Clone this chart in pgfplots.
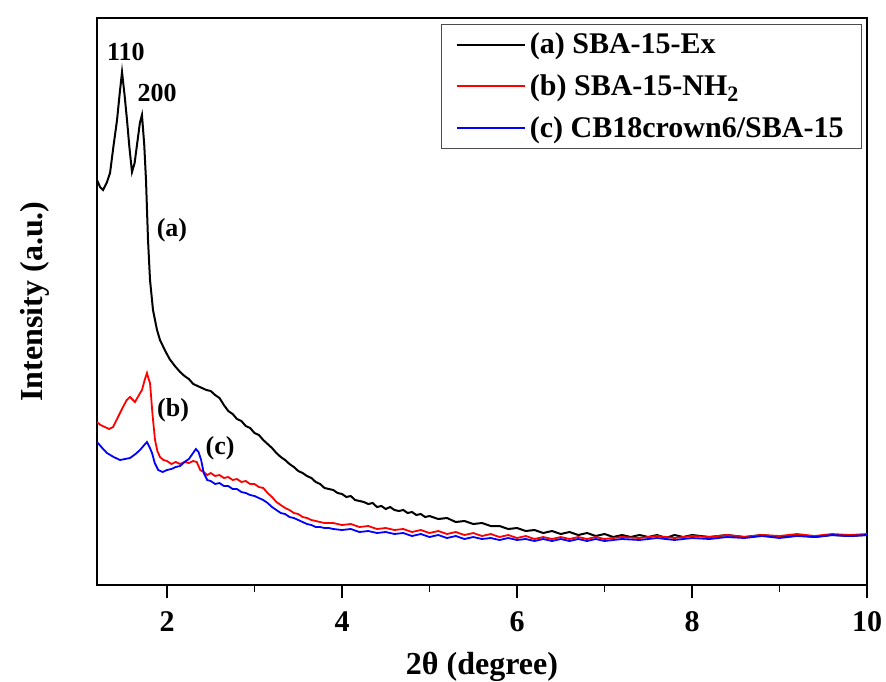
\documentclass[border=0pt]{standalone}
\usepackage{pgfplots}
\pgfplotsset{compat=1.18}
\usepackage{fontspec}
\setmainfont{Liberation Serif}
\begin{document}
\begin{tikzpicture}
\begin{axis}[
  scale only axis, width=385pt, height=283.5pt,
  xmin=1.2, xmax=10, ymin=0, ymax=567,
  axis line style={line width=1pt},
  ytick=\empty,
  xtick={2,4,6,8,10}, minor xtick={3,5,7,9},
  tick pos=left, tick align=outside,
  major tick length=6.5pt, minor tick length=3.5pt,
  tick style={draw=none},
  /pgf/number format/assume math mode=true,
  xticklabel style={font=\fontsize{15}{15}\selectfont\bfseries, anchor=center, yshift=-12pt},
  xlabel={2θ (degree)},
  xlabel style={font=\fontsize{16}{16}\selectfont\bfseries, at={(axis description cs:0.5,0)}, anchor=center, yshift=-41pt},
  ylabel={Intensity (a.u.)},
  ylabel style={font=\fontsize{16}{16}\selectfont\bfseries, at={(axis description cs:-0.0805,0.5)}, anchor=center},
  legend style={at={(0.9935,0.989)}, anchor=north east, draw=black!70, line width=0.5pt,
    font=\fontsize{15}{17}\selectfont\bfseries, inner xsep=7pt, inner ysep=2pt, row sep=5pt},
  legend cell align=left,
  legend image code/.code={\draw[#1, line width=1pt] (0pt,0pt) -- (34pt,0pt);},
]
\coordinate (bl) at (rel axis cs:0,0);
\coordinate (tr) at (rel axis cs:1,1);
\addplot[black, line width=1pt] coordinates {
(1.200,405) (1.235,398) (1.269,395) (1.310,402) (1.349,412) (1.390,440) (1.429,465) (1.460,492) (1.486,513)
(1.515,490) (1.543,465) (1.570,438) (1.600,413) (1.630,422) (1.657,440) (1.690,462) (1.714,470)
(1.740,440) (1.760,405) (1.783,345) (1.806,305) (1.840,275) (1.886,255)
(1.92,245) (1.98,234) (2.03,226) (2.09,219) (2.15,213) (2.20,209) (2.25,206) (2.30,201) (2.35,199)
(2.40,197) (2.45,195) (2.50,194) (2.55,190) (2.60,187) (2.65,180) (2.70,174) (2.75,171) (2.80,166)
(2.85,164) (2.90,159) (2.95,157) (3.00,152) (3.05,150) (3.10,145) (3.15,141) (3.20,137) (3.25,132)
(3.30,128) (3.35,125) (3.40,121) (3.45,118) (3.50,114) (3.55,112) (3.60,109) (3.65,107) (3.70,103)
(3.75,101) (3.80,97) (3.85,96)
(3.90,95) (3.95,92) (4.00,91) (4.05,88) (4.10,89) (4.15,85) (4.20,84) (4.25,83) (4.30,81) (4.35,82)
(4.40,78) (4.45,79) (4.50,76) (4.55,78) (4.60,75) (4.65,74) (4.70,75) (4.75,72) (4.80,73) (4.85,70)
(4.90,71) (4.95,68) (5.00,69) (5.10,66) (5.20,67) (5.30,63) (5.40,64) (5.50,61) (5.60,62) (5.70,59)
(5.80,59) (5.90,56) (6.00,57) (6.10,54) (6.20,55) (6.30,52) (6.40,54) (6.50,51) (6.60,53) (6.70,50)
(6.80,52) (6.90,49) (7.00,51) (7.10,48) (7.20,50) (7.30,48) (7.40,50) (7.50,48) (7.60,50) (7.70,47)
(7.80,50) (7.90,48) (8.00,50) (8.20,48) (8.40,50) (8.60,48) (8.80,50) (9.00,48) (9.20,50) (9.40,48)
(9.60,50) (9.80,49) (10.0,50)
};
\addlegendentry{(a) SBA-15-Ex}
\addplot[red, line width=0.9pt] coordinates {
(1.200,163) (1.240,160) (1.290,158) (1.340,156) (1.383,158) (1.440,168) (1.497,178) (1.540,185) (1.577,188)
(1.600,186) (1.634,183) (1.680,190) (1.714,195) (1.745,205) (1.771,212) (1.790,206) (1.806,202)
(1.835,170) (1.863,145) (1.890,134)
(1.92,128) (1.96,125) (2.00,124) (2.05,121) (2.10,123) (2.15,121) (2.20,123) (2.25,122) (2.30,124)
(2.34,123) (2.38,115) (2.42,113) (2.46,110) (2.50,112) (2.55,109) (2.60,110) (2.65,107) (2.70,108)
(2.75,105) (2.80,106) (2.85,103) (2.90,104) (2.95,101) (3.00,101) (3.05,98) (3.10,97) (3.15,92)
(3.20,88) (3.25,83) (3.30,80) (3.35,77) (3.40,75) (3.45,72) (3.50,71) (3.55,68) (3.60,67) (3.65,65)
(3.70,64) (3.75,63) (3.80,62) (3.85,62)
(3.90,62) (4.00,60) (4.10,61) (4.20,58) (4.30,59) (4.40,56) (4.50,57) (4.60,55) (4.70,56) (4.80,53)
(4.90,55) (5.00,52) (5.10,54) (5.20,51) (5.30,53) (5.40,50) (5.50,52) (5.60,49) (5.70,51) (5.80,48)
(5.90,50) (6.00,47) (6.10,49) (6.20,46) (6.30,48) (6.40,46) (6.50,48) (6.60,46) (6.70,48) (6.80,46)
(6.90,48) (7.00,46) (7.20,48) (7.40,47) (7.60,49) (7.80,47) (8.00,49) (8.20,48) (8.40,50) (8.60,48)
(8.80,50) (9.00,49) (9.20,51) (9.40,49) (9.60,51) (9.80,50) (10.0,51)
};
\addlegendentry{(b) SBA-15-NH\raisebox{-0.45ex}{\fontsize{11}{11}\selectfont 2}}
\addplot[blue, line width=0.9pt] coordinates {
(1.200,143) (1.260,137) (1.314,132) (1.390,128) (1.463,125) (1.520,126) (1.577,127) (1.640,131)
(1.691,135) (1.740,140) (1.771,143) (1.800,138) (1.829,132) (1.860,122)
(1.90,115) (1.95,113) (2.00,115) (2.05,116) (2.10,118) (2.15,119) (2.20,123) (2.25,126) (2.29,131)
(2.33,136) (2.36,133) (2.39,125) (2.42,112) (2.46,105) (2.50,104) (2.55,101) (2.60,102) (2.65,99)
(2.70,99) (2.75,96) (2.80,96) (2.85,93) (2.90,92) (2.95,90) (3.00,89) (3.05,87) (3.10,85) (3.15,82)
(3.20,78) (3.25,75) (3.30,72) (3.35,71) (3.40,68) (3.45,67) (3.50,65) (3.55,63) (3.60,61) (3.65,60)
(3.70,58) (3.75,58) (3.80,57) (3.85,57)
(3.90,56) (4.00,55) (4.10,56) (4.20,53) (4.30,54) (4.40,52) (4.50,53) (4.60,51) (4.70,52) (4.80,49)
(4.90,51) (5.00,48) (5.10,50) (5.20,47) (5.30,49) (5.40,46) (5.50,48) (5.60,46) (5.70,47) (5.80,45)
(5.90,47) (6.00,45) (6.10,46) (6.20,44) (6.30,46) (6.40,44) (6.50,46) (6.60,44) (6.70,46) (6.80,44)
(6.90,46) (7.00,44) (7.20,46) (7.40,45) (7.60,47) (7.80,45) (8.00,47) (8.20,46) (8.40,48) (8.60,47)
(8.80,49) (9.00,47) (9.20,49) (9.40,48) (9.60,50) (9.80,49) (10.0,50)
};
\addlegendentry{(c) CB18crown6/SBA-15}
\node[font=\fontsize{13}{13}\selectfont\bfseries] at (axis cs:1.531,533) {110};
\node[font=\fontsize{13}{13}\selectfont\bfseries] at (axis cs:1.886,492) {200};
\node[font=\fontsize{13}{13}\selectfont\bfseries] at (axis cs:2.057,355) {(a)};
\node[font=\fontsize{13}{13}\selectfont\bfseries] at (axis cs:2.069,175) {(b)};
\node[font=\fontsize{13}{13}\selectfont\bfseries] at (axis cs:2.606,137) {(c)};
\end{axis}
\foreach \t in {2,4,6,8,10} {\draw[black, line width=0.9pt] ([xshift={(\t-1.2)*43.75pt}]bl) -- ++(0,-6.5pt);}
\foreach \t in {3,5,7,9} {\draw[black, line width=0.9pt] ([xshift={(\t-1.2)*43.75pt}]bl) -- ++(0,-3.5pt);}
\pgfresetboundingbox
\path ([shift={(-48.5pt,-48pt)}]bl) rectangle ([shift={(9.5pt,9pt)}]tr);
\end{tikzpicture}
\end{document}
